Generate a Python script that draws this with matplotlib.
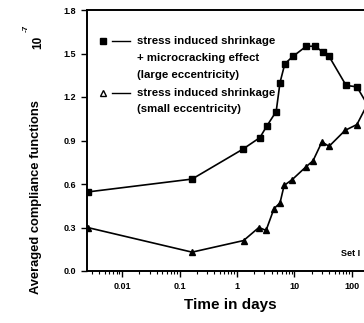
import matplotlib.pyplot as plt
import numpy as np

plt.rcParams['font.family'] = ['Liberation Sans', 'DejaVu Sans']
plt.rcParams['font.weight'] = 'bold'

# large eccentricity (squares)
t_large = [0.0025, 0.165, 1.26, 2.5, 3.3, 4.8, 5.6, 6.8, 9.4, 16, 23, 31, 40, 79, 122, 250]
c_large = [0.545, 0.634, 0.84, 0.92, 1.00, 1.10, 1.30, 1.43, 1.48, 1.55, 1.55, 1.51, 1.48, 1.28, 1.27, 1.06]
# small eccentricity (triangles)
t_small = [0.0025, 0.165, 1.3, 2.4, 3.2, 4.4, 5.6, 6.6, 9.1, 16, 21, 30, 40, 76, 122, 250]
c_small = [0.30, 0.13, 0.21, 0.30, 0.28, 0.43, 0.47, 0.59, 0.63, 0.72, 0.76, 0.89, 0.86, 0.97, 1.01, 1.25]

yticks = [0.0, 0.3, 0.6, 0.9, 1.2, 1.5, 1.8]
xticks = [0.01, 0.1, 1, 10, 100]
xticklabels = ['0.01', '0.1', '1', '10', '100']

W, H = 364, 323
fig = plt.figure(figsize=(W / 100, H / 100), dpi=100)
ax = fig.add_axes([87 / W, 52 / H, 1 - 87 / W, 261 / H])

ax.plot(t_large, c_large, '-s', color='black', lw=1.2, ms=4)
ax.plot(t_small, c_small, '-^', color='black', lw=1.2, ms=4.5)

ax.set_xscale('log')
ax.set_xlim(0.00245, 162)
ax.set_ylim(0, 1.8)
ax.set_yticks(yticks)
ax.set_yticklabels(['%.1f' % v for v in yticks])
ax.set_xticks(xticks)
ax.set_xticklabels(xticklabels)
ax.tick_params(labelsize=6.5, width=1, length=4, pad=4, direction='out')
ax.tick_params(which='minor', length=2, width=0.8)
for s in ['left', 'bottom', 'top']:
    ax.spines[s].set_linewidth(1.4)
ax.spines['right'].set_visible(False)


def fx(x):
    return x / W


def fy(y):
    return 1 - y / H


fig.text(fx(230), fy(305), 'Time in days', ha='center', va='center',
         fontsize=11, fontweight='bold')
fig.text(fx(36), fy(197), 'Averaged compliance functions',
         rotation=90, ha='center', va='center', fontsize=9.3, fontweight='bold')
fig.text(fx(38), fy(42), '10', rotation=90, ha='center', va='center',
         fontsize=8.5, fontweight='bold')
fig.text(fx(26), fy(28), '-7', rotation=90, ha='center', va='center',
         fontsize=6, fontweight='bold')
fig.text(fx(360), fy(253), 'Set I', ha='right', va='center', fontsize=6.5,
         fontweight='bold')

# legend drawn by hand
fig.lines.append(plt.Line2D([fx(103)], [fy(41)], marker='s', color='black', ms=4,
                            transform=fig.transFigure))
fig.lines.append(plt.Line2D([fx(112), fx(130)], [fy(41), fy(41)], color='black', lw=1,
                            transform=fig.transFigure))
fig.lines.append(plt.Line2D([fx(103)], [fy(93)], marker='^', color='black', mfc='white',
                            ms=5, transform=fig.transFigure))
fig.lines.append(plt.Line2D([fx(112), fx(130)], [fy(93), fy(93)], color='black', lw=1,
                            transform=fig.transFigure))
legend_lines = [(41, 'stress induced shrinkage'), (58, '+ microcracking effect'),
                (75, '(large eccentricity)'), (93, 'stress induced shrinkage'),
                (109, '(small eccentricity)')]
for y, s in legend_lines:
    fig.text(fx(137), fy(y), s, ha='left', va='center', fontsize=8.2, fontweight='bold')

fig.savefig('out.png', dpi=100)
